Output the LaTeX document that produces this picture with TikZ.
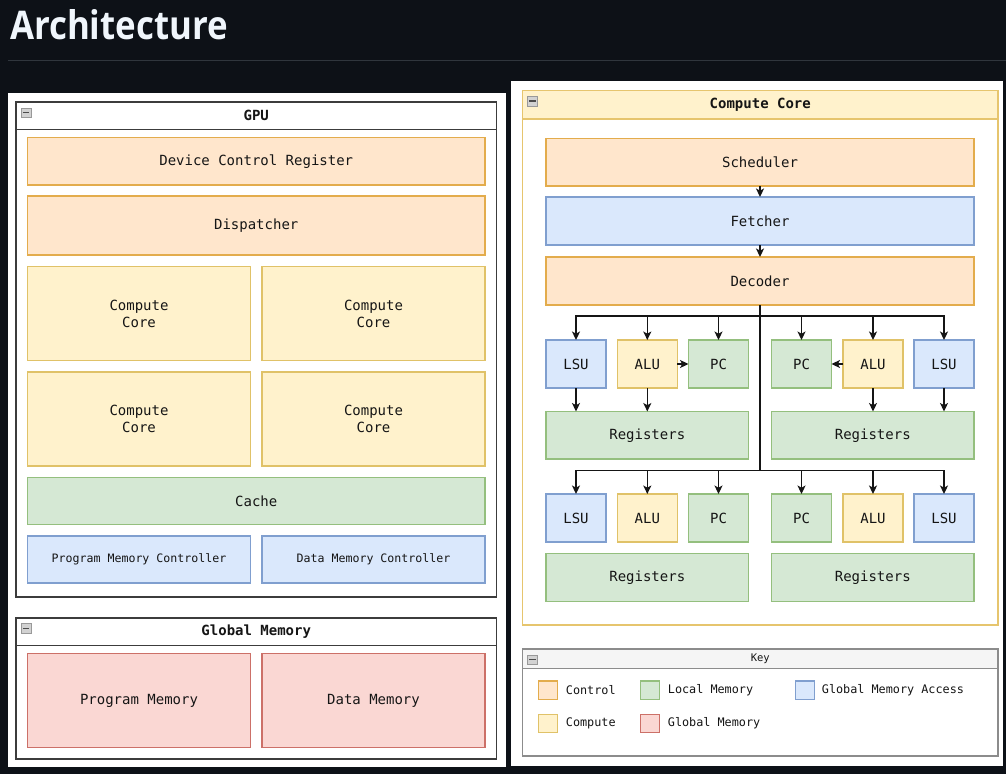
\documentclass[tikz,border=0pt]{standalone}
\usepackage{graphicx}
\usepackage{fontspec}
\setmainfont{Open Sans}
\setmonofont{DejaVu Sans Mono}
\usetikzlibrary{arrows.meta}
\definecolor{bgc}{HTML}{0D1117}
\definecolor{rulec}{HTML}{30363D}
\definecolor{titlec}{HTML}{F0F6FC}
\definecolor{txt}{HTML}{151515}
\definecolor{ofill}{HTML}{FFE6CC}\definecolor{odraw}{HTML}{E3AC4C}
\definecolor{yfill}{HTML}{FFF2CC}\definecolor{ydraw}{HTML}{E0C268}
\definecolor{bfill}{HTML}{DAE8FC}\definecolor{bdraw}{HTML}{809FCF}
\definecolor{gfill}{HTML}{D5E8D4}\definecolor{gdraw}{HTML}{94BF7E}
\definecolor{rfill}{HTML}{FAD7D3}\definecolor{rdraw}{HTML}{CC7068}
\definecolor{gpudraw}{HTML}{3C3C3C}
\definecolor{ccdraw}{HTML}{E6C56E}
\definecolor{keydraw}{HTML}{8C8C8C}
\definecolor{keyhead}{HTML}{F5F5F5}
\definecolor{linec}{HTML}{151515}
\tikzset{
  box/.style={draw, line width=1.2pt, inner sep=0pt, outer sep=0pt, anchor=north west,
    font=\ttfamily\fontsize{14}{17}\selectfont, text=txt, align=center},
  smallbox/.style={box, font=\ttfamily\fontsize{11.6}{14}\selectfont},
  ctl/.style={fill=ofill, draw=odraw},
  cmp/.style={fill=yfill, draw=ydraw},
  gma/.style={fill=bfill, draw=bdraw},
  lmem/.style={fill=gfill, draw=gdraw},
  gmem/.style={fill=rfill, draw=rdraw},
  cont/.style={draw=gpudraw, line width=1.5pt, fill=white, inner sep=0pt, outer sep=0pt, anchor=north west},
  hdr/.style={cont, font=\ttfamily\bfseries\fontsize{14}{17}\selectfont, text=txt},
  swatch/.style={draw, line width=1.3pt, minimum width=19pt, minimum height=18.5pt, inner sep=0pt},
  keytxt/.style={anchor=west, inner sep=0pt, font=\ttfamily\fontsize{11.8}{14}\selectfont, text=txt},
  arr/.style={draw=linec, line width=1.3pt, -{Stealth[length=8.5pt,width=8pt,inset=2.2pt]}},
  minusicon/.pic={
    \draw[draw=gray!80, fill=gray!35, line width=0.6pt] (-5,-4.8) rectangle (5,4.8);
    \draw[line width=1.3pt, draw=black!70] (-3.2,0) -- (3.2,0);
  }
}
\begin{document}
\begin{tikzpicture}[x=1pt,y=-1pt]
\fill[bgc] (0,0) rectangle (1006,774);
\useasboundingbox (0,0) rectangle (1006,774);
% title
\node[anchor=south west, inner sep=0pt, outer sep=0pt, text=titlec] (title) at (10,39.5)
  {\resizebox{218pt}{30pt}{\bfseries Architecture}};
\draw[rulec, line width=1pt] (8,60.5) -- (1006,60.5);
% panels
\fill[white] (8,93) rectangle (506,767);
\fill[white] (511,81) rectangle (1003,766);

% ---------- GPU ----------
\node[cont, minimum width=480.5pt, minimum height=495pt] (gpu) at (16,102) {};
\node[hdr, minimum width=480.5pt, minimum height=27.5pt] (gpuh) at (16,102) {GPU};
\pic at (26,112.7) {minusicon};
\node[box, ctl, minimum width=457.5pt, minimum height=47.5pt] (dcr) at (27.5,137.5) {Device Control Register};
\node[box, ctl, minimum width=457.5pt, minimum height=59pt] (disp) at (27.5,196) {Dispatcher};
\node[box, cmp, minimum width=223pt, minimum height=94pt] (cc1) at (27.5,266.5) {Compute\\Core};
\node[box, cmp, minimum width=223pt, minimum height=94pt] (cc2) at (262,266.5) {Compute\\Core};
\node[box, cmp, minimum width=223pt, minimum height=94pt] (cc3) at (27.5,372) {Compute\\Core};
\node[box, cmp, minimum width=223pt, minimum height=94pt] (cc4) at (262,372) {Compute\\Core};
\node[box, lmem, minimum width=457.5pt, minimum height=47pt] (cache) at (27.5,477.5) {Cache};
\node[smallbox, gma, minimum width=223pt, minimum height=47pt] (pmc) at (27.5,536) {Program Memory Controller};
\node[smallbox, gma, minimum width=223pt, minimum height=47pt] (dmc) at (262,536) {Data Memory Controller};

% ---------- Global Memory ----------
\node[cont, minimum width=480.5pt, minimum height=141pt] (glob) at (16,618) {};
\node[hdr, minimum width=480.5pt, minimum height=27.5pt] (globh) at (16,618) {Global Memory};
\pic at (26,628.3) {minusicon};
\node[box, gmem, minimum width=223pt, minimum height=94pt] (pm) at (27.5,653.5) {Program Memory};
\node[box, gmem, minimum width=223pt, minimum height=94pt] (dm) at (262,653.5) {Data Memory};

% ---------- Compute Core ----------
\node[cont, draw=ccdraw, line width=1.2pt, minimum width=475.5pt, minimum height=534.5pt] (core) at (522.5,90.5) {};
\node[hdr, draw=ccdraw, line width=1.2pt, fill=yfill, minimum width=475.5pt, minimum height=28.5pt] (coreh) at (522.5,90.5) {Compute Core};
\pic at (532.3,101) {minusicon};
\node[box, ctl, minimum width=428pt, minimum height=47.5pt] (sched) at (546,138.5) {Scheduler};
\node[box, gma, minimum width=428pt, minimum height=48pt] (fetch) at (546,197) {Fetcher};
\node[box, ctl, minimum width=428pt, minimum height=48pt] (dec) at (546,257) {Decoder};
% row 1
\node[box, gma, minimum width=60pt, minimum height=48pt] (lsu1) at (546,340) {LSU};
\node[box, cmp, minimum width=60pt, minimum height=48pt] (alu1) at (617.3,340) {ALU};
\node[box, lmem, minimum width=60pt, minimum height=48pt] (pc1) at (688.5,340) {PC};
\node[box, lmem, minimum width=60pt, minimum height=48pt] (pc2) at (771.5,340) {PC};
\node[box, cmp, minimum width=60pt, minimum height=48pt] (alu2) at (843,340) {ALU};
\node[box, gma, minimum width=60pt, minimum height=48pt] (lsu2) at (914,340) {LSU};
\node[box, lmem, minimum width=202.5pt, minimum height=47.5pt] (reg1) at (546,411.5) {Registers};
\node[box, lmem, minimum width=202.5pt, minimum height=47.5pt] (reg2) at (771.5,411.5) {Registers};
% row 2
\node[box, gma, minimum width=60pt, minimum height=48pt] (lsu3) at (546,494) {LSU};
\node[box, cmp, minimum width=60pt, minimum height=48pt] (alu3) at (617.3,494) {ALU};
\node[box, lmem, minimum width=60pt, minimum height=48pt] (pc3) at (688.5,494) {PC};
\node[box, lmem, minimum width=60pt, minimum height=48pt] (pc4) at (771.5,494) {PC};
\node[box, cmp, minimum width=60pt, minimum height=48pt] (alu4) at (843,494) {ALU};
\node[box, gma, minimum width=60pt, minimum height=48pt] (lsu4) at (914,494) {LSU};
\node[box, lmem, minimum width=202.5pt, minimum height=48pt] (reg3) at (546,553.5) {Registers};
\node[box, lmem, minimum width=202.5pt, minimum height=48pt] (reg4) at (771.5,553.5) {Registers};

% connectors
\draw[arr] (sched.south) -- (fetch.north);
\draw[arr] (fetch.south) -- (dec.north);
\coordinate (b1) at (760,316);
\coordinate (b2) at (760,470.7);
\foreach \n in {lsu1,alu1,pc1,pc2,alu2,lsu2}
  \draw[arr] (dec.south) -- (b1) -| (\n.north);
\foreach \n in {lsu3,alu3,pc3,pc4,alu4,lsu4}
  \draw[arr] (dec.south) -- (b2) -| (\n.north);
\draw[arr] (lsu1.south) -- (lsu1.south |- reg1.north);
\draw[arr] (alu1.south) -- (alu1.south |- reg1.north);
\draw[arr] (alu2.south) -- (alu2.south |- reg2.north);
\draw[arr] (lsu2.south) -- (lsu2.south |- reg2.north);
\draw[arr] (alu1.east) -- (pc1.west);
\draw[arr] (alu2.west) -- (pc2.east);

% ---------- Key ----------
\node[cont, draw=keydraw, line width=1.2pt, minimum width=475.5pt, minimum height=107pt] (key) at (522.5,649) {};
\node[cont, draw=keydraw, line width=1.2pt, fill=keyhead, minimum width=475.5pt, minimum height=19.5pt,
  font=\ttfamily\fontsize{10.5}{13}\selectfont, text=txt] (keyh) at (522.5,649) {Key};
\pic at (532.3,659.7) {minusicon};
\node[swatch, ctl] (sw1) at (547.8,690.2) {};
\node[keytxt] (t1) at (565.7,690.2) {Control};
\node[swatch, lmem] (sw2) at (650.2,690.2) {};
\node[keytxt] (t2) at (667.7,690.2) {Local Memory};
\node[swatch, gma] (sw3) at (804.8,690.2) {};
\node[keytxt] (t3) at (821.7,690.2) {Global Memory Access};
\node[swatch, cmp] (sw4) at (547.8,723.5) {};
\node[keytxt] (t4) at (565.7,723.5) {Compute};
\node[swatch, gmem] (sw5) at (650.2,723.5) {};
\node[keytxt] (t5) at (667.7,723.5) {Global Memory};
\end{tikzpicture}
\end{document}
